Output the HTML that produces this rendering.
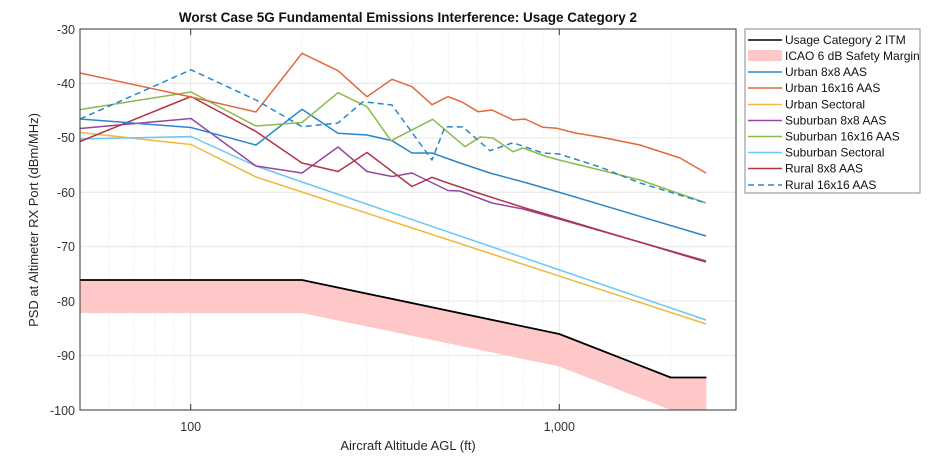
<!DOCTYPE html>
<html><head><meta charset="utf-8"><style>
body{margin:0;background:#fff;}
svg{display:block;font-family:"Liberation Sans",Arial,sans-serif;}
</style></head><body>
<svg width="935" height="465" viewBox="0 0 935 465" xmlns="http://www.w3.org/2000/svg">
<rect width="935" height="465" fill="#fff"/>
<text x="408" y="22" text-anchor="middle" font-size="13.5" font-weight="bold" fill="#111">Worst Case 5G Fundamental Emissions Interference: Usage Category 2</text>
<g stroke="#e4e4e4" stroke-width="0.8" stroke-dasharray="1.5,2">
<line x1="109" y1="29" x2="109" y2="410"/><line x1="134" y1="29" x2="134" y2="410"/>
<line x1="155" y1="29" x2="155" y2="410"/><line x1="174" y1="29" x2="174" y2="410"/>
<line x1="302" y1="29" x2="302" y2="410"/><line x1="366.6" y1="29" x2="366.6" y2="410"/>
<line x1="412.6" y1="29" x2="412.6" y2="410"/><line x1="448.3" y1="29" x2="448.3" y2="410"/>
<line x1="477.5" y1="29" x2="477.5" y2="410"/><line x1="502.2" y1="29" x2="502.2" y2="410"/>
<line x1="523.6" y1="29" x2="523.6" y2="410"/><line x1="542.4" y1="29" x2="542.4" y2="410"/>
<line x1="670.7" y1="29" x2="670.7" y2="410"/>
</g>
<g stroke="#e6e6e6" stroke-width="1">
<line x1="190.7" y1="29" x2="190.7" y2="410"/><line x1="559.3" y1="29" x2="559.3" y2="410"/>
<line x1="80" y1="83.4" x2="736" y2="83.4"/><line x1="80" y1="137.9" x2="736" y2="137.9"/>
<line x1="80" y1="192.3" x2="736" y2="192.3"/><line x1="80" y1="246.7" x2="736" y2="246.7"/>
<line x1="80" y1="301.1" x2="736" y2="301.1"/><line x1="80" y1="355.6" x2="736" y2="355.6"/>
</g>
<polygon points="80,280 302,280 559.3,334 670.7,377.5 706.4,377.5 706.4,410 670.7,410 559.3,366.5 302,313 80,313" fill="#ffc8c8"/>
<g fill="none" stroke-width="1.5" stroke-linejoin="round">
<polyline stroke="#efb93e" points="80,132.5 191,144.5 256,177 302,192 706,324"/>
<polyline stroke="#6cc8f0" points="80,139 191,136.5 256,166 302,182 706,320"/>
<polyline stroke="#9546a3" points="80,128.5 191,118.5 256,166 302,173 338,147 367,171.5 392,176.5 412,173 448,190.5 460,191 492,203 523,209 559,219 706,261"/>
<polyline stroke="#b33347" points="80,141.5 191,96.5 256,131.5 302,163 338,171.5 367,152.5 412,186.5 432,177.3 448,183 478,193 525,208 559,218 706,262"/>
<polyline stroke="#2a86c8" points="80,119 191,127.5 256,145 302,109.3 338,133.3 367,135 392,140.7 412,153 432,153 460,163 490,173 527,183 560,192.5 706,236"/>
<polyline stroke="#8abb4c" points="80,109.6 191,92 256,126 302,122.5 338,92.7 367,106.7 391,140.7 432.7,119.3 465,146.7 480,137 493,138 513,151.7 523,148 545,156 559,160 600,170 640,180 706,203"/>
<polyline stroke="#e2693a" points="80,73 191,97 256,112 302,53.3 338,70.7 367,96.7 392,79.3 412,86.7 432,104.7 448,96.7 462,102 478,111.7 492,110 513,120 525,119 543,127.3 557,128.3 575,133 600,137 640,145 680,158 706,173"/>
<polyline stroke="#2a86c8" stroke-dasharray="6,4" points="80,119 191,69.8 256,100 302,126.7 338,123 363,101.7 392,105 432,160 445,126.7 463,127 490,150.7 513,142.7 543,153 559,154 600,167 640,183 706,203"/>
<polyline stroke="#000" stroke-width="1.8" points="80,280 302,280 559.3,334 670.7,377.5 706.4,377.5"/>
</g>
<rect x="80" y="29" width="656" height="381" fill="none" stroke="#333" stroke-width="1"/>
<g stroke="#333" stroke-width="1">
<line x1="190.7" y1="410" x2="190.7" y2="404"/><line x1="559.3" y1="410" x2="559.3" y2="404"/>
<line x1="190.7" y1="29" x2="190.7" y2="35"/><line x1="559.3" y1="29" x2="559.3" y2="35"/>
</g>
<g font-size="12.5" fill="#333" text-anchor="end">
<text x="75" y="34">-30</text><text x="75" y="88">-40</text><text x="75" y="142">-50</text>
<text x="75" y="197">-60</text><text x="75" y="251">-70</text><text x="75" y="306">-80</text>
<text x="75" y="360">-90</text><text x="75" y="415">-100</text>
</g>
<g font-size="12.5" fill="#333" text-anchor="middle">
<text x="190.7" y="431">100</text><text x="559.3" y="431">1,000</text>
</g>
<text x="408" y="450" text-anchor="middle" font-size="13" fill="#262626">Aircraft Altitude AGL (ft)</text>
<text transform="translate(38,220) rotate(-90)" text-anchor="middle" font-size="13" fill="#262626">PSD at Altimeter RX Port (dBm/MHz)</text>
<rect x="745" y="29" width="175" height="164" fill="#fff" stroke="#888" stroke-width="1"/>
<g stroke-width="1.6">
<line x1="748" y1="40" x2="782" y2="40" stroke="#000"/>
<rect x="748" y="50" width="34" height="11" fill="#ffc8c8" stroke="none"/>
<line x1="748" y1="72" x2="782" y2="72" stroke="#2a86c8"/>
<line x1="748" y1="88" x2="782" y2="88" stroke="#e2693a"/>
<line x1="748" y1="104.5" x2="782" y2="104.5" stroke="#efb93e"/>
<line x1="748" y1="120.5" x2="782" y2="120.5" stroke="#9546a3"/>
<line x1="748" y1="136.5" x2="782" y2="136.5" stroke="#8abb4c"/>
<line x1="748" y1="152.5" x2="782" y2="152.5" stroke="#6cc8f0"/>
<line x1="748" y1="168.5" x2="782" y2="168.5" stroke="#b33347"/>
<line x1="748" y1="185" x2="782" y2="185" stroke="#2a86c8" stroke-dasharray="6,4"/>
</g>
<g font-size="12" fill="#111">
<text x="785" y="44">Usage Category 2 ITM</text>
<text x="785" y="60">ICAO 6 dB Safety Margin</text>
<text x="785" y="76">Urban 8x8 AAS</text>
<text x="785" y="92">Urban 16x16 AAS</text>
<text x="785" y="108.5">Urban Sectoral</text>
<text x="785" y="124.5">Suburban 8x8 AAS</text>
<text x="785" y="140.5">Suburban 16x16 AAS</text>
<text x="785" y="156.5">Suburban Sectoral</text>
<text x="785" y="172.5">Rural 8x8 AAS</text>
<text x="785" y="189">Rural 16x16 AAS</text>
</g>
</svg>
</body></html>
